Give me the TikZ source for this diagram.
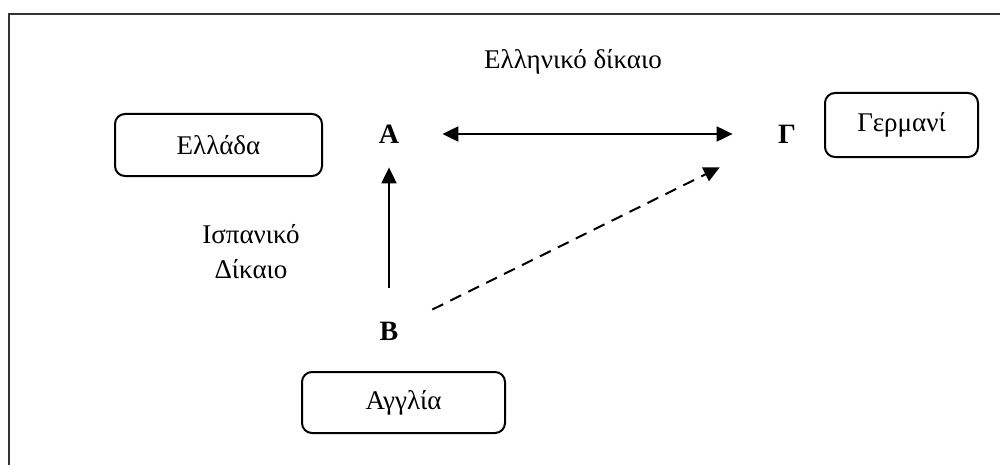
\documentclass[tikz,border=0pt]{standalone}
\usepackage{fontspec}
\setmainfont{Liberation Serif}
\usetikzlibrary{arrows.meta}

\begin{document}
\begin{tikzpicture}[%
      x=0.5pt, y=-0.5pt,
      country/.style={draw, line width=1pt, rounded corners=5pt,
        font=\fontsize{13.5}{17.5}\selectfont},
      pointlbl/.style={circle, inner sep=0pt, minimum size=14pt,
        font=\fontsize{14}{16}\selectfont\bfseries},
      lawlbl/.style={align=center, font=\fontsize{13.5}{17.5}\selectfont},
      link/.style={line width=1pt, -{Triangle[length=8pt,width=7.5pt]}},
      ]
      \useasboundingbox (0,0) rectangle (1000,465);
      \draw [line width=0.8pt, color=black!80] (9,465) -- (9,14) -- (1000,14);

      \node [country, minimum width=103.5pt, minimum height=31pt] (greece) at (218.5,145) {Ελλάδα};
      \node [country, minimum width=76.5pt, minimum height=32pt] (germany) at (901.5,125) {Γερμανί};
      \node [country, minimum width=101.5pt, minimum height=30.5pt] (england) at (403.5,402.5) {Αγγλία};

      \node [pointlbl] (A) at (389,134) {Α};
      \node [pointlbl] (G) at (787,134) {Γ};
      \node [pointlbl] (B) at (389,331) {Β};

      \node [lawlbl] (greeklaw) at (573,62) {Ελληνικό δίκαιο};
      \node [lawlbl] (spanishlaw) at (251,252) {Ισπανικό\\Δίκαιο};

      \draw [link, {Triangle[length=8pt,width=7.5pt]}-{Triangle[length=8pt,width=7.5pt]},
        shorten <=19.5pt, shorten >=20pt] (A) -- (G);
      \draw [link, shorten <=14.5pt, shorten >=9.5pt] (B) -- (A);
      \draw [link, dash pattern=on 6pt off 4pt, shorten <=17pt, shorten >=30.3pt] (B) -- (G);
      \end{tikzpicture}
\end{document}
